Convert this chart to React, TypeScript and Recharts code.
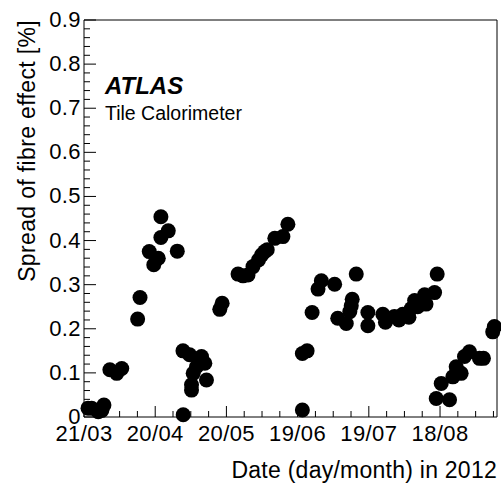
import React from 'react';
import { ScatterChart, Scatter, XAxis, YAxis } from 'recharts';

// days since 21/03/2012 and spread of fibre effect [%]
const days = [
  1.7, 3.2, 6.0, 7.5, 8.4, 10.9, 13.8, 15.9, 22.6, 23.6,
  27.5, 29.4, 31.3, 32.4, 32.4, 35.5, 39.3, 41.7, 41.8, 44.5,
  45.3, 45.3, 46.0, 47.4, 49.5, 50.9, 51.6, 57.2, 58.2, 64.9,
  67.0, 69.1, 71.2, 73.5, 74.8, 76.1, 77.2, 80.4, 83.8, 85.9,
  92.0, 92.0, 94.0, 96.1, 98.6, 100.0, 105.6, 106.9, 110.5, 112.0,
  112.6, 113.0, 114.7, 119.6, 119.6, 125.9, 127.0, 130.8, 132.7, 134.3,
  136.9, 137.9, 139.3, 140.6, 143.5, 144.1, 147.7, 148.8, 148.4, 150.5,
  154.0, 155.4, 156.8, 158.9, 160.3, 162.4, 166.6, 168.3, 172.2, 172.9,
];
const spread = [
  0.020, 0.020, 0.012, 0.015, 0.027, 0.107, 0.099, 0.110, 0.222, 0.271,
  0.375, 0.345, 0.360, 0.407, 0.454, 0.422, 0.376, 0.150, 0.005, 0.141,
  0.073, 0.061, 0.099, 0.114, 0.137, 0.122, 0.084, 0.244, 0.258, 0.324,
  0.320, 0.322, 0.341, 0.356, 0.367, 0.375, 0.379, 0.405, 0.409, 0.437,
  0.016, 0.144, 0.150, 0.237, 0.290, 0.309, 0.301, 0.224, 0.212, 0.239,
  0.252, 0.267, 0.324, 0.237, 0.207, 0.233, 0.215, 0.228, 0.220, 0.233,
  0.226, 0.246, 0.264, 0.250, 0.277, 0.256, 0.282, 0.324, 0.042, 0.076,
  0.039, 0.091, 0.114, 0.099, 0.137, 0.148, 0.133, 0.133, 0.193, 0.205,
];

const xTickLabels = ['21/03', '20/04', '20/05', '19/06', '19/07', '18/08'];
const yTickLabels = ['0', '0.1', '0.2', '0.3', '0.4', '0.5', '0.6', '0.7', '0.8', '0.9'];

const points = days.map((d, i) => ({ day: d, spread: spread[i] }));

// 30 days between labels, 4 divisions each
const xTicks = Array.from({ length: 24 }, (_, i) => i * 7.5);
const yTicks = Array.from({ length: 46 }, (_, i) => Math.round(i * 2) / 100);

const FONT = '"Liberation Sans", Arial, Helvetica, sans-serif';

const isMajorX = (v: number) => Math.abs(v / 30 - Math.round(v / 30)) < 1e-6;
const isMajorY = (v: number) => Math.abs(v * 10 - Math.round(v * 10)) < 1e-6;

function BottomTick(props: any) {
  const { x, y, payload } = props;
  const major = isMajorX(payload.value);
  return (
    <g>
      <line x1={x} x2={x} y1={y} y2={y - (major ? 11 : 6)} stroke="#000" strokeWidth={1} />
      {major && (
        <text x={x} y={y + 24} textAnchor="middle" fontSize={22} letterSpacing={0.4} fill="#000" fontFamily={FONT}>
          {xTickLabels[Math.round(payload.value / 30)]}
        </text>
      )}
    </g>
  );
}

function TopTick(props: any) {
  const { x, y, payload } = props;
  const major = isMajorX(payload.value);
  return <line x1={x} x2={x} y1={y} y2={y + (major ? 11 : 6)} stroke="#000" strokeWidth={1} />;
}

function LeftTick(props: any) {
  const { x, y, payload } = props;
  const major = isMajorY(payload.value);
  return (
    <g>
      <line x1={x} x2={x + (major ? 12 : 6)} y1={y} y2={y} stroke="#000" strokeWidth={1} />
      {major && (
        <text x={x - 3} y={y + 7} textAnchor="end" fontSize={22} letterSpacing={0.4} fill="#000" fontFamily={FONT}>
          {yTickLabels[Math.round(payload.value * 10)]}
        </text>
      )}
    </g>
  );
}

function RightTick(props: any) {
  const { x, y, payload } = props;
  const major = isMajorY(payload.value);
  return <line x1={x} x2={x - (major ? 12 : 6)} y1={y} y2={y} stroke="#000" strokeWidth={1} />;
}

const Dot = (props: any) => <circle cx={props.cx} cy={props.cy} r={7.5} fill="#000" />;

export default function App() {
  return (
    <div style={{ position: 'absolute', left: 0, top: 0, width: 501, height: 484, background: '#fff' }}>
      <ScatterChart width={501} height={484} margin={{ top: 19, right: 3, bottom: 66, left: 83 }}>
        <XAxis
          xAxisId="bottom"
          dataKey="day"
          type="number"
          domain={[0, 174]}
          ticks={xTicks}
          interval={0}
          height={1}
          tickSize={0}
          tickMargin={0}
          tick={<BottomTick />}
          axisLine={{ stroke: '#000' }}
        />
        <XAxis
          xAxisId="top"
          orientation="top"
          dataKey="day"
          type="number"
          domain={[0, 174]}
          ticks={xTicks}
          interval={0}
          height={1}
          tickSize={0}
          tickMargin={0}
          tick={<TopTick />}
          axisLine={{ stroke: '#000' }}
        />
        <YAxis
          yAxisId="left"
          dataKey="spread"
          type="number"
          domain={[0, 0.9]}
          ticks={yTicks}
          interval={0}
          width={1}
          tickSize={0}
          tickMargin={0}
          tick={<LeftTick />}
          axisLine={{ stroke: '#000' }}
        />
        <YAxis
          yAxisId="right"
          orientation="right"
          dataKey="spread"
          type="number"
          domain={[0, 0.9]}
          ticks={yTicks}
          interval={0}
          width={1}
          tickSize={0}
          tickMargin={0}
          tick={<RightTick />}
          axisLine={{ stroke: '#000' }}
        />
        <Scatter
          data={points}
          xAxisId="bottom"
          yAxisId="left"
          shape={<Dot />}
          isAnimationActive={false}
        />
        <Scatter
          data={[]}
          xAxisId="top"
          yAxisId="right"
          isAnimationActive={false}
        />
        <text x={105} y={94} fontSize={24} fontWeight="bold" fontStyle="italic" fontFamily={FONT} fill="#000">
          ATLAS
        </text>
        <text x={105} y={120} fontSize={19.5} fontFamily={FONT} fill="#000">
          Tile Calorimeter
        </text>
        <text x={497} y={478} textAnchor="end" fontSize={23} letterSpacing={0.25} fontFamily={FONT} fill="#000">
          Date (day/month) in 2012
        </text>
        <text
          transform="translate(35, 20) rotate(-90)"
          textAnchor="end"
          fontSize={23}
          letterSpacing={0.35}
          fontFamily={FONT}
          fill="#000"
        >
          Spread of fibre effect [%]
        </text>
      </ScatterChart>
    </div>
  );
}
